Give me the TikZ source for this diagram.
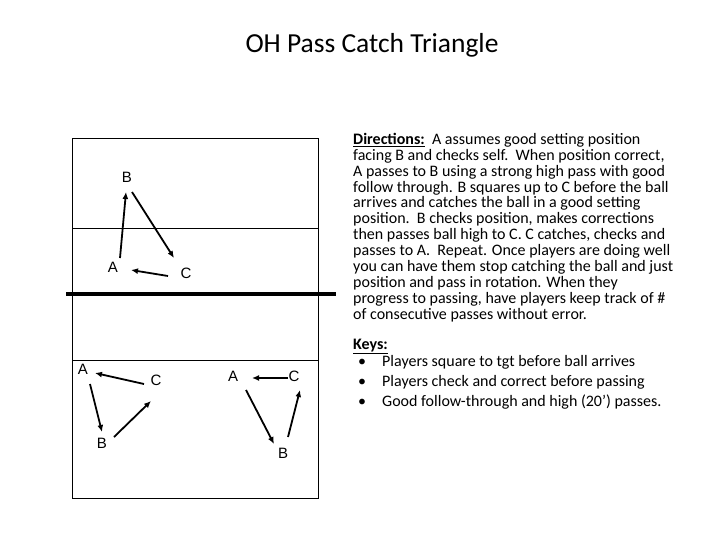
\documentclass[tikz,border=0pt]{standalone}
\usepackage{fontspec}
\setmainfont{Carlito}
\newfontfamily\lettersfont{Liberation Sans}
\usetikzlibrary{arrows.meta}
\begin{document}
\begin{tikzpicture}[x=1pt,y=-1pt,
  court/.style={line width=0.9pt},
  netline/.style={line width=3.6pt},
  pass/.style={line width=1.8pt,-{Latex[length=7pt,width=6pt]}},
  player/.style={font=\lettersfont\fontsize{15}{17}\selectfont,inner sep=0pt},
  body/.style={font=\fontsize{16}{16}\selectfont,inner sep=0pt,anchor=base west}]
\useasboundingbox (0,0) rectangle (720,540);
% title
\node[font=\fontsize{27.5}{30}\selectfont,inner sep=0pt] (title) at (372,45) {OH Pass Catch Triangle};
% court
\draw[court] (72,138) rectangle (318,498);
\draw[court] (72,228) -- (318,228);
\draw[court] (72,360) -- (318,360);
\draw[netline] (66,294) -- (336,294);
% upper triangle
\node[player] (uB) at (127,177) {B};
\node[player] (uA) at (113,267) {A};
\node[player] (uC) at (186,273) {C};
\coordinate (uAB1) at (120,258); \coordinate (uAB2) at (126,192);
\coordinate (uBC1) at (132,192); \coordinate (uBC2) at (174,258);
\coordinate (uCA1) at (168,276); \coordinate (uCA2) at (131,270);
\draw[pass] (uAB1) -- (uAB2);
\draw[pass] (uBC1) -- (uBC2);
\draw[pass] (uCA1) -- (uCA2);
% lower left triangle
\node[player] (lA) at (83,369) {A};
\node[player] (lC) at (156,380) {C};
\node[player] (lB) at (102,443) {B};
\coordinate (lCA1) at (144,384); \coordinate (lCA2) at (95,373);
\coordinate (lAB1) at (90,384); \coordinate (lAB2) at (102,432);
\coordinate (lBC1) at (114,437); \coordinate (lBC2) at (151,401);
\draw[pass] (lCA1) -- (lCA2);
\draw[pass] (lAB1) -- (lAB2);
\draw[pass] (lBC1) -- (lBC2);
% lower right triangle
\node[player] (rA) at (233,376) {A};
\node[player] (rC) at (294,376) {C};
\node[player] (rB) at (283,453) {B};
\coordinate (rCA1) at (288,378); \coordinate (rCA2) at (252,378);
\coordinate (rAB1) at (246,390); \coordinate (rAB2) at (274,444);
\coordinate (rBC1) at (288,437); \coordinate (rBC2) at (300,390);
\draw[pass] (rCA1) -- (rCA2);
\draw[pass] (rAB1) -- (rAB2);
\draw[pass] (rBC1) -- (rBC2);
% directions
\node[body] (d1) at (353,144.5) {\textbf{\underline{Directions:}}\ \ A assumes good setting position};
\node[body] (d2) at (353,160.4) {facing B and checks self.\ \ When position correct,};
\node[body] (d3) at (353,176.2) {A passes to B using a strong high pass with good};
\node[body] (d4) at (353,192.1) {follow through. B squares up to C before the ball};
\node[body] (d5) at (353,207.9) {arrives and catches the ball in a good setting};
\node[body] (d6) at (353,223.8) {position.\ \ B checks position, makes corrections};
\node[body] (d7) at (353,239.7) {then passes ball high to C. C catches, checks and};
\node[body] (d8) at (353,255.5) {passes to A.\ \ Repeat. Once players are doing well};
\node[body] (d9) at (353,271.4) {you can have them stop catching the ball and just};
\node[body] (d10) at (353,287.2) {position and pass in rotation. When they};
\node[body] (d11) at (353,303.1) {progress to passing, have players keep track of \#};
\node[body] (d12) at (353,319) {of consecutive passes without error.};
% keys
\node[body] (keys) at (353,349) {\textbf{\underline{Keys:}}};
\node[body] (b1) at (358,366) {\textbullet};
\node[body] (k1) at (382,366) {Players square to tgt before ball arrives};
\node[body] (b2) at (358,386) {\textbullet};
\node[body] (k2) at (382,386) {Players check and correct before passing};
\node[body] (b3) at (358,406) {\textbullet};
\node[body] (k3) at (382,406) {Good follow-through and high (20’) passes.};
\end{tikzpicture}
\end{document}
